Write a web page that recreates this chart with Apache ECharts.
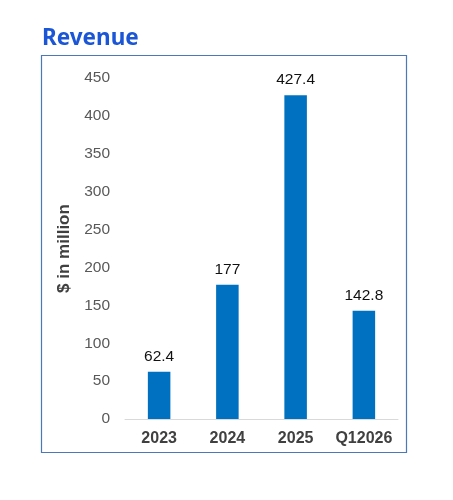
<!DOCTYPE html>
<html>
<head>
<meta charset="utf-8">
<script src="https://cdn.jsdelivr.net/npm/echarts@6/dist/echarts.min.js"></script>
<style>
  html, body { margin: 0; padding: 0; background: #fff; }
  #chart { width: 453px; height: 500px; }
</style>
</head>
<body>
<div id="chart"></div>
<script>
// 数据
const categories = ['2023', '2024', '2025', 'Q12026']
const revenue = [62.4, 177, 427.4, 142.8]
const yTicks = { min: 0, max: 450, interval: 50 }

const chart = echarts.init(document.getElementById('chart'))

chart.setOption({
  animation: false,
  title: {
    text: 'Revenue',
    left: 37,
    top: 22,
    textStyle: { fontFamily: 'Noto Sans', fontSize: 22.5, fontWeight: 'bold', color: '#1a56d6' }
  },
  // 外框
  graphic: [{
    type: 'rect',
    shape: { x: 41.5, y: 55.5, width: 365, height: 397 },
    style: { fill: 'none', stroke: '#4a78b8', lineWidth: 1.2 },
    silent: true
  }],
  grid: { left: 125, right: 55, top: 78, bottom: 81 },
  xAxis: {
    type: 'category',
    data: categories,
    axisLine: { show: true, lineStyle: { color: '#d9d9d9', width: 1 } },
    axisTick: { show: false },
    axisLabel: {
      interval: 0,
      hideOverlap: false,
      fontFamily: 'Liberation Sans',
      fontSize: 16,
      fontWeight: 'bold',
      color: '#404040',
      margin: 12
    }
  },
  yAxis: {
    type: 'value',
    min: yTicks.min,
    max: yTicks.max,
    interval: yTicks.interval,
    name: '$ in million',
    nameLocation: 'middle',
    nameGap: 49,
    nameTextStyle: { fontFamily: 'Liberation Sans', fontSize: 17, fontWeight: 'bold', color: '#404040' },
    splitLine: { show: false },
    axisLine: { show: false },
    axisTick: { show: false },
    axisLabel: { fontFamily: 'Liberation Sans', fontSize: 15.5, color: '#595959', margin: 15 }
  },
  series: [{
    type: 'bar',
    data: revenue,
    barWidth: '33%',
    itemStyle: { color: '#0070c0' },
    label: {
      show: true,
      position: 'top',
      distance: 7,
      fontFamily: 'Liberation Sans',
      fontSize: 15.5,
      color: '#111'
    }
  }]
})
</script>
</body>
</html>
